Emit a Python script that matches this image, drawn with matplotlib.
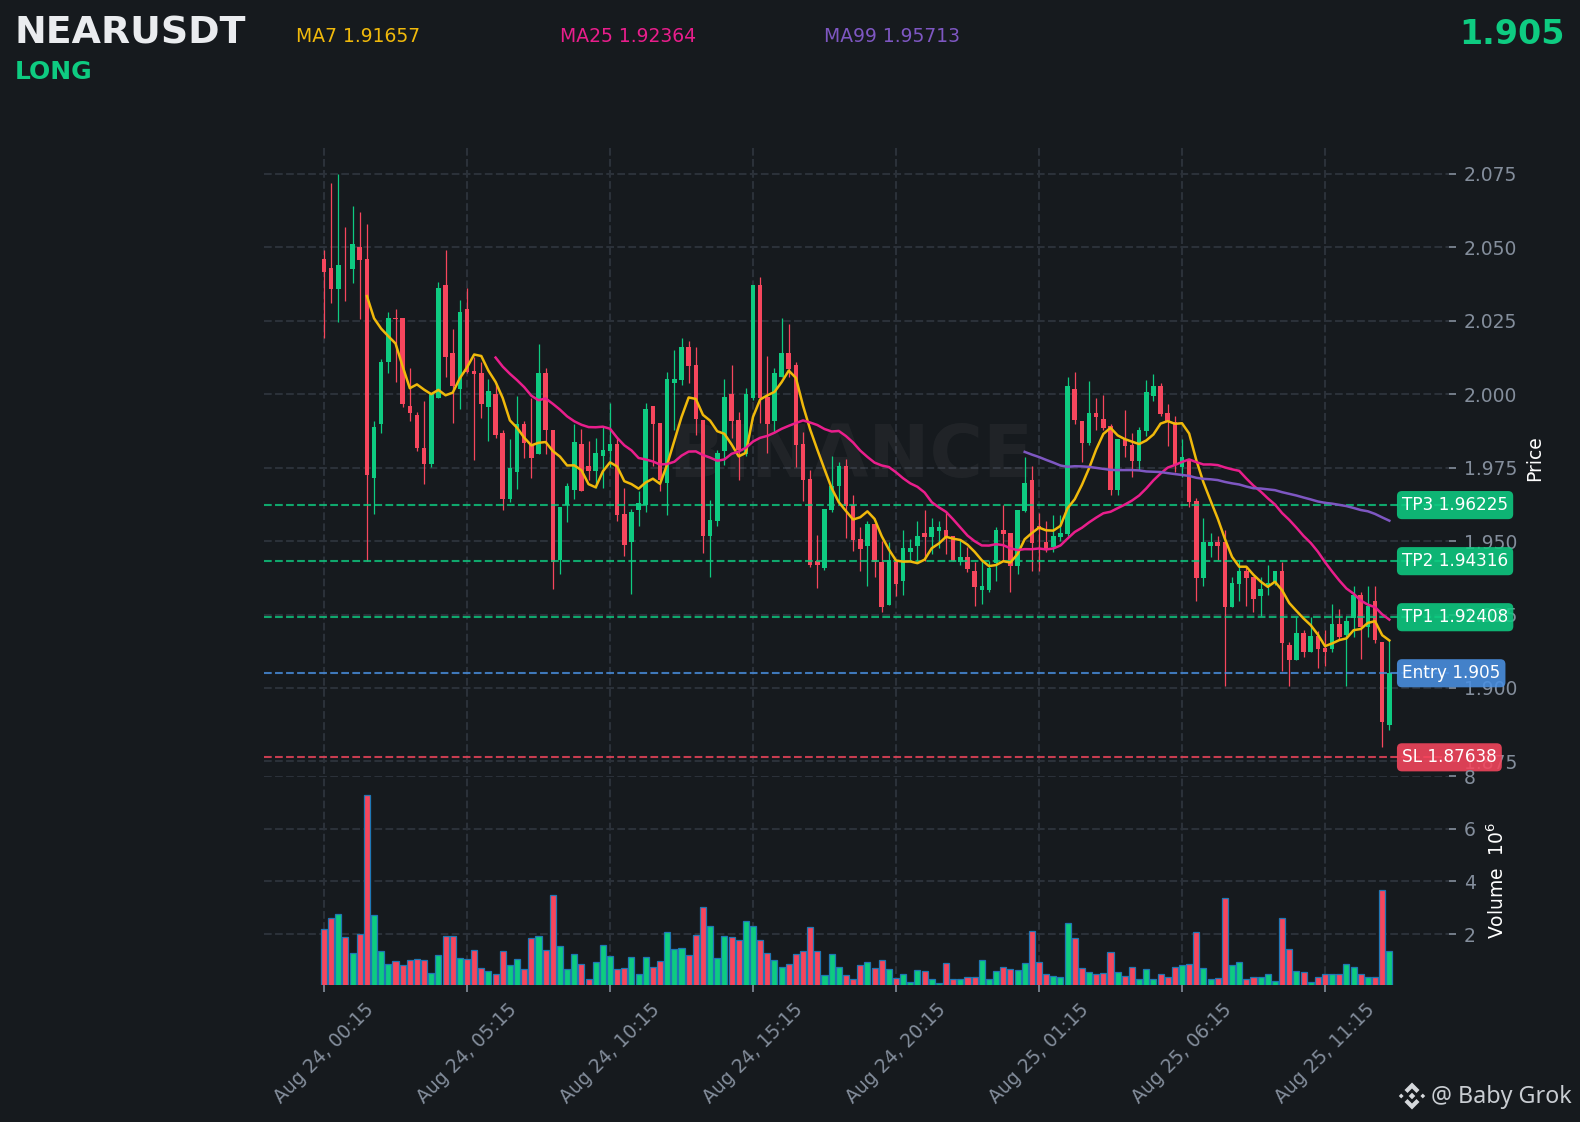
import numpy as np
import pandas as pd
import matplotlib
matplotlib.use('Agg')
import matplotlib.pyplot as plt
from matplotlib.patches import Polygon

W, H = 1581, 1122

# 15 minute candles
opens = [2.0461, 2.0430, 2.0358, 2.0430, 2.0427, 2.0501, 2.0461, 1.9715, 1.9899, 2.0108,
         2.0259, 2.0260, 1.9960, 1.9929, 1.9817, 1.9762, 1.9988, 2.0372, 2.0140, 2.0018,
         2.0290, 2.0080, 2.0071, 1.9958, 2.0001, 1.9868, 1.9644, 1.9736, 1.9899, 1.9829,
         1.9797, 2.0072, 1.9878, 1.9434, 1.9623, 1.9674, 1.9831, 1.9754, 1.9739, 1.9788,
         1.9807, 1.9831, 1.9593, 1.9497, 1.9606, 1.9623, 1.9961, 1.9903, 1.9698, 2.0039,
         2.0049, 2.0161, 2.0100, 1.9913, 1.9518, 1.9569, 1.9807, 2.0001, 1.9913, 1.9797,
         1.9988, 2.0373, 1.9991, 1.9909, 2.0060, 2.0141, 2.0100, 1.9831, 1.9712, 1.9432,
         1.9410, 1.9606, 1.9688, 1.9754, 1.9624, 1.9508, 1.9484, 1.9559, 1.9430, 1.9283,
         1.9430, 1.9365, 1.9464, 1.9484, 1.9529, 1.9515, 1.9535, 1.9539, 1.9518, 1.9430,
         1.9447, 1.9399, 1.9335, 1.9335, 1.9427, 1.9539, 1.9529, 1.9416, 1.9604, 1.9709,
         1.9550, 1.9498, 1.9479, 1.9515, 1.9525, 2.0019, 1.9910, 1.9835, 1.9937, 1.9917,
         1.9893, 1.9675, 1.9849, 1.9828, 1.9774, 1.9876, 1.9995, 2.0029, 1.9937, 1.9905,
         1.9753, 1.9777, 1.9638, 1.9375, 1.9484, 1.9498, 1.9498, 1.9277, 1.9355, 1.9399,
         1.9379, 1.9314, 1.9345, 1.9358, 1.9399, 1.9147, 1.9096, 1.9188, 1.9123, 1.9178,
         1.9137, 1.9134, 1.9219, 1.9181, 1.9238, 1.9318, 1.9206, 1.9297, 1.9158, 1.8875]
highs = [2.0491, 2.0718, 2.0750, 2.0568, 2.0641, 2.0619, 2.0579, 1.9909, 2.0119, 2.0279,
         2.0289, 2.0260, 2.0088, 1.9938, 1.9978, 2.0003, 2.0382, 2.0491, 2.0221, 2.0321,
         2.0361, 2.0128, 2.0108, 2.0051, 2.0037, 1.9877, 1.9846, 1.9995, 1.9909, 1.9986,
         2.0170, 2.0088, 1.9878, 1.9616, 1.9697, 1.9898, 1.9881, 1.9839, 1.9850, 1.9890,
         1.9970, 1.9850, 1.9680, 1.9609, 1.9669, 1.9970, 1.9961, 1.9903, 2.0077, 2.0151,
         2.0191, 2.0182, 2.0160, 1.9913, 1.9640, 1.9811, 2.0053, 2.0098, 1.9939, 2.0021,
         2.0373, 2.0399, 2.0129, 2.0089, 2.0259, 2.0240, 2.0109, 1.9871, 1.9743, 1.9521,
         1.9610, 1.9788, 1.9769, 1.9779, 1.9657, 1.9549, 1.9570, 1.9559, 1.9501, 1.9496,
         1.9437, 1.9538, 1.9507, 1.9570, 1.9606, 1.9579, 1.9570, 1.9596, 1.9518, 1.9505,
         1.9479, 1.9430, 1.9433, 1.9433, 1.9549, 1.9624, 1.9529, 1.9607, 1.9785, 1.9755,
         1.9596, 1.9567, 1.9590, 1.9589, 2.0060, 2.0077, 1.9910, 2.0046, 1.9987, 1.9997,
         1.9900, 1.9849, 1.9946, 1.9868, 1.9890, 2.0050, 2.0069, 2.0038, 1.9967, 1.9925,
         1.9848, 1.9777, 1.9647, 1.9579, 1.9528, 1.9516, 1.9538, 1.9379, 1.9436, 1.9416,
         1.9379, 1.9376, 1.9420, 1.9399, 1.9428, 1.9158, 1.9240, 1.9197, 1.9240, 1.9195,
         1.9197, 1.9286, 1.9269, 1.9246, 1.9348, 1.9328, 1.9348, 1.9348, 1.9158, 1.9164]
lows = [2.0190, 2.0310, 2.0247, 2.0319, 2.0380, 2.0257, 1.9432, 1.9593, 1.9869, 2.0071,
        2.0041, 1.9955, 1.9910, 1.9808, 1.9695, 1.9752, 1.9988, 2.0060, 1.9901, 1.9949,
        2.0071, 1.9775, 1.9918, 1.9839, 1.9850, 1.9605, 1.9634, 1.9676, 1.9784, 1.9716,
        1.9797, 1.9797, 1.9336, 1.9387, 1.9566, 1.9644, 1.9669, 1.9709, 1.9680, 1.9680,
        1.9752, 1.9570, 1.9448, 1.9319, 1.9550, 1.9599, 1.9754, 1.9669, 1.9589, 1.9879,
        2.0030, 2.0039, 1.9860, 1.9459, 1.9379, 1.9550, 1.9760, 1.9850, 1.9709, 1.9788,
        1.9981, 1.9902, 1.9799, 1.9873, 2.0060, 2.0060, 1.9752, 1.9638, 1.9411, 1.9340,
        1.9400, 1.9599, 1.9630, 1.9510, 1.9467, 1.9397, 1.9346, 1.9377, 1.9257, 1.9283,
        1.9314, 1.9316, 1.9433, 1.9433, 1.9433, 1.9456, 1.9475, 1.9456, 1.9433, 1.9420,
        1.9395, 1.9278, 1.9286, 1.9328, 1.9365, 1.9433, 1.9326, 1.9388, 1.9600, 1.9397,
        1.9397, 1.9462, 1.9462, 1.9500, 1.9518, 1.9899, 1.9770, 1.9828, 1.9879, 1.9879,
        1.9657, 1.9657, 1.9785, 1.9717, 1.9743, 1.9859, 1.9976, 1.9927, 1.9825, 1.9735,
        1.9717, 1.9615, 1.9295, 1.9346, 1.9445, 1.9437, 1.9005, 1.9277, 1.9295, 1.9278,
        1.9257, 1.9246, 1.9316, 1.9350, 1.9057, 1.9005, 1.9096, 1.9106, 1.9123, 1.9068,
        1.9076, 1.9123, 1.9165, 1.9005, 1.9175, 1.9098, 1.9175, 1.9154, 1.8798, 1.8857]
closes = [2.0417, 2.0358, 2.0440, 2.0428, 2.0512, 2.0457, 1.9726, 1.9888, 2.0110, 2.0260,
          2.0257, 1.9965, 1.9937, 1.9817, 1.9762, 2.0003, 2.0362, 2.0128, 2.0028, 2.0280,
          2.0076, 2.0069, 1.9967, 2.0011, 1.9860, 1.9644, 1.9749, 1.9899, 1.9834, 1.9784,
          2.0072, 1.9878, 1.9430, 1.9616, 1.9688, 1.9837, 1.9669, 1.9739, 1.9801, 1.9811,
          1.9831, 1.9589, 1.9487, 1.9600, 1.9630, 1.9950, 1.9899, 1.9709, 2.0053, 2.0053,
          2.0161, 2.0097, 1.9916, 1.9518, 1.9572, 1.9801, 1.9991, 1.9909, 1.9811, 2.0001,
          2.0373, 1.9988, 1.9899, 2.0073, 2.0141, 2.0087, 1.9828, 1.9709, 1.9419, 1.9419,
          1.9610, 1.9688, 1.9754, 1.9618, 1.9505, 1.9474, 1.9559, 1.9430, 1.9277, 1.9437,
          1.9355, 1.9478, 1.9478, 1.9518, 1.9515, 1.9549, 1.9549, 1.9515, 1.9433, 1.9447,
          1.9406, 1.9345, 1.9348, 1.9410, 1.9539, 1.9525, 1.9416, 1.9607, 1.9699, 1.9495,
          1.9540, 1.9474, 1.9518, 1.9529, 2.0029, 1.9913, 1.9835, 1.9937, 1.9924, 1.9886,
          1.9675, 1.9849, 1.9825, 1.9774, 1.9879, 2.0009, 2.0029, 1.9934, 1.9910, 1.9760,
          1.9787, 1.9634, 1.9375, 1.9498, 1.9498, 1.9484, 1.9277, 1.9358, 1.9399, 1.9375,
          1.9304, 1.9338, 1.9358, 1.9399, 1.9154, 1.9096, 1.9188, 1.9123, 1.9178, 1.9134,
          1.9123, 1.9219, 1.9175, 1.9229, 1.9318, 1.9206, 1.9280, 1.9164, 1.8885, 1.9050]
volumes = [2.19, 2.62, 2.76, 1.89, 1.30, 2.02, 7.28, 2.72, 1.37, 0.88,
           0.98, 0.83, 1.02, 1.06, 1.02, 0.53, 1.22, 1.94, 1.94, 1.11,
           1.07, 1.41, 0.73, 0.62, 0.50, 1.37, 0.84, 1.07, 0.69, 1.87,
           1.94, 1.41, 3.49, 1.56, 0.66, 1.26, 0.88, 0.31, 0.96, 1.60,
           1.18, 0.69, 0.73, 1.14, 0.50, 1.14, 0.77, 0.99, 2.09, 1.45,
           1.48, 1.22, 1.97, 3.03, 2.31, 1.11, 1.94, 1.90, 1.79, 2.50,
           2.31, 1.79, 1.30, 1.03, 0.77, 0.88, 1.26, 1.37, 2.28, 1.37,
           0.45, 1.26, 0.77, 0.45, 0.31, 0.84, 0.96, 0.73, 1.03, 0.69,
           0.35, 0.47, 0.20, 0.65, 0.62, 0.28, 0.15, 0.92, 0.28, 0.31,
           0.39, 0.39, 1.03, 0.31, 0.62, 0.77, 0.69, 0.65, 0.92, 2.13,
           0.96, 0.50, 0.43, 0.39, 2.43, 1.86, 0.73, 0.58, 0.47, 0.54,
           1.33, 0.58, 0.43, 0.77, 0.28, 0.69, 0.28, 0.50, 0.39, 0.77,
           0.84, 0.88, 2.09, 0.73, 0.31, 0.35, 3.37, 0.84, 0.96, 0.31,
           0.39, 0.38, 0.47, 0.24, 2.62, 1.45, 0.62, 0.58, 0.20, 0.39,
           0.50, 0.50, 0.50, 0.88, 0.77, 0.50, 0.39, 0.39, 3.67, 1.37]

date_labels = ['Aug 24, 00:15', 'Aug 24, 05:15', 'Aug 24, 10:15', 'Aug 24, 15:15',
               'Aug 24, 20:15', 'Aug 25, 01:15', 'Aug 25, 06:15', 'Aug 25, 11:15']
price_ticks = [1.875, 1.900, 1.925, 1.950, 1.975, 2.000, 2.025, 2.050, 2.075]
volume_ticks = [2, 4, 6, 8]

level_names = ['TP3', 'TP2', 'TP1', 'Entry', 'SL']
level_prices = [1.96225, 1.94316, 1.92408, 1.905, 1.87638]
level_texts = ['1.96225', '1.94316', '1.92408', '1.905', '1.87638']
level_colors = ['#0ecb81', '#0ecb81', '#0ecb81', '#4a90e2', '#f6465d']

ma_windows = [7, 25, 99]
ma_values = ['1.91657', '1.92364', '1.95713']
ma_colors = ['#f0b90b', '#e91e8c', '#7e57c2']

BG = '#161a1e'
GRID = '#2b3139'
GRAY = '#848e9c'
UP = '#0ecb81'
DOWN = '#f6465d'
RIGHT = 1449.5


def box(left, top, right, bottom):
    return [left / W, 1 - bottom / H, (right - left) / W, (bottom - top) / H]


def fx(px):
    return px / W


def fy(px):
    return 1 - px / H


fig = plt.figure(figsize=(W / 150, H / 150), dpi=150, facecolor=BG)
ax = fig.add_axes(box(264, 146, RIGHT, 774), facecolor=BG)
ax_vol = fig.add_axes(box(264, 776, RIGHT, 985), facecolor=BG, sharex=ax)

x = np.arange(len(closes))
opens_a = np.array(opens)
closes_a = np.array(closes)
colors = [UP if c >= o else DOWN for o, c in zip(opens, closes)]

# Candles
ax.vlines(x, lows, highs, colors=colors, linewidth=0.6, zorder=3)
ax.bar(x, np.maximum(np.abs(closes_a - opens_a), 0.0002), bottom=np.minimum(opens_a, closes_a),
       width=0.64, color=colors, linewidth=0, zorder=3)

# Moving averages are worked out from the closes, same as on the exchange chart
close_series = pd.Series(closes)
for window, color in zip(ma_windows, ma_colors):
    ax.plot(x, close_series.rolling(window).mean(), color=color, linewidth=1.2, zorder=4)

# Entry, targets and stop
for name, price, text, color in zip(level_names, level_prices, level_texts, level_colors):
    ax.axhline(price, color=color, linewidth=1.0, linestyle='--', alpha=0.8, zorder=3.5)
    ax.text((1402 - 264) / (RIGHT - 264), price, f'{name} {text}', color='white', fontsize=8.1,
            va='center', ha='left', transform=ax.get_yaxis_transform(), clip_on=False, zorder=6,
            bbox=dict(boxstyle='round,pad=0.3', facecolor=color, edgecolor='none', alpha=0.88))

ax.text(0.495, 0.505, 'BINANCE', color='white', alpha=0.045, fontsize=35, fontweight='bold',
        ha='center', va='center', transform=ax.transAxes, zorder=1)

# Volume
ax_vol.bar(x, volumes, width=0.85, color=colors, edgecolor='#1f77b4', linewidth=0.6, zorder=3)

ax.set_xlim((264 - 324) / 7.15, (RIGHT - 324) / 7.15)
ax.set_ylim(1.8707, 2.0845)
ax_vol.set_ylim(0.07, 8.0)

tick_positions = x[::20]
ax_vol.set_xticks(tick_positions)
ax_vol.set_xticklabels(date_labels)
ax.set_yticks(price_ticks)
ax.set_yticklabels([f'{t:.3f}' for t in price_ticks])
ax_vol.set_yticks(volume_ticks)

for a in (ax, ax_vol):
    for spine in a.spines.values():
        spine.set_visible(False)
    a.yaxis.tick_right()
    a.grid(True, color=GRID, linestyle='--', linewidth=1.0, zorder=0)
    a.set_axisbelow(True)
    a.tick_params(axis='y', colors=GRAY, labelsize=9)
    a.tick_params(axis='x', colors=GRAY, labelsize=9)
ax.tick_params(axis='x', length=0, labelbottom=False)
ax_vol.tick_params(axis='x', labelrotation=45)

fig.text(fx(1535), fy(458), 'Price', color='white', fontsize=9, rotation=90, ha='center', va='center')
fig.text(fx(1497), fy(881), 'Volume  $10^{6}$', color='white', fontsize=9, rotation=90,
         ha='center', va='center')

# Header
fig.text(fx(15), fy(33), 'NEARUSDT', color='#eaecef', fontsize=18.2, fontweight='bold', va='center')
fig.text(fx(15), fy(72), 'LONG', color=UP, fontsize=12, fontweight='bold', va='center')
for left, window, value, color in zip([296, 560, 824], ma_windows, ma_values, ma_colors):
    fig.text(fx(left), fy(36), f'MA{window} {value}', color=color, fontsize=9, va='center')
fig.text(fx(1565), fy(34), '1.905', color=UP, fontsize=16, fontweight='bold', ha='right', va='center')

# Footer with the diamond logo
logo = fig.add_axes(box(1397, 1081, 1427, 1111))
logo.set_xlim(-1, 1)
logo.set_ylim(-1, 1)
logo.axis('off')
logo_color = '#d5d8dc'
shapes = [
    [(0, 0.22), (0.22, 0), (0, -0.22), (-0.22, 0)],
    [(-0.72, 0.16), (-0.56, 0), (-0.72, -0.16), (-0.88, 0)],
    [(0.72, 0.16), (0.88, 0), (0.72, -0.16), (0.56, 0)],
    [(0, 0.9), (0.5, 0.4), (0.3, 0.2), (0, 0.5), (-0.3, 0.2), (-0.5, 0.4)],
    [(0, -0.9), (0.5, -0.4), (0.3, -0.2), (0, -0.5), (-0.3, -0.2), (-0.5, -0.4)],
]
for shape in shapes:
    logo.add_patch(Polygon(shape, closed=True, facecolor=logo_color, edgecolor='none'))
fig.text(fx(1431), fy(1097), '@ Baby Grok', color='#c9cdd2', fontsize=11.2, family='Noto Sans', va='center')

fig.savefig('out.png', dpi=150, facecolor=BG)
